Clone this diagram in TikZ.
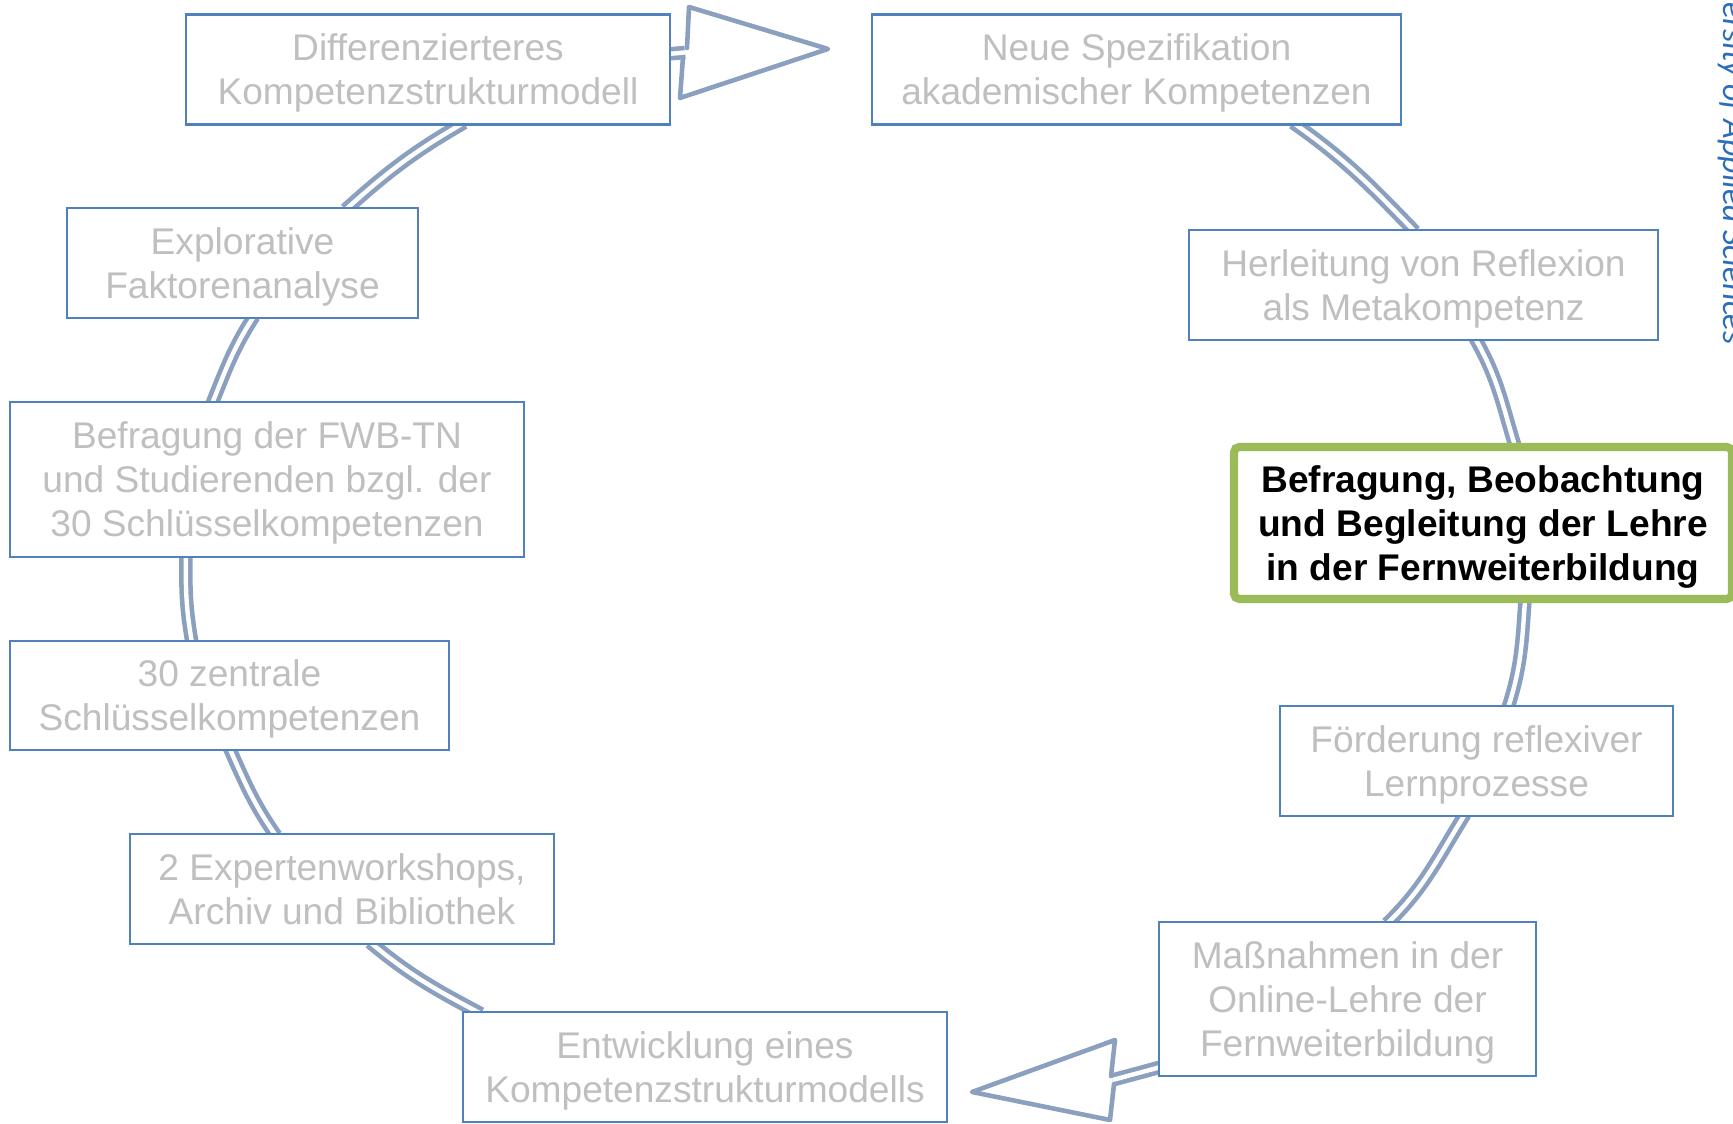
\documentclass[tikz,border=0pt]{standalone}
\usepackage{fontspec}
\setmainfont{Liberation Sans}
\newfontfamily\hsfont{Carlito}
\usetikzlibrary{backgrounds}
\definecolor{ringblue}{HTML}{8AA0BE}
\definecolor{boxblue}{HTML}{4F81BD}
\definecolor{textgray}{HTML}{BFBFBF}
\definecolor{markgreen}{HTML}{9BBB59}
\definecolor{hsblue}{HTML}{2A6EBB}

\begin{document}
\begin{tikzpicture}[
        box/.style={draw=boxblue, line width=0.7pt, fill=white, text=textgray, align=center,
            inner sep=0pt, minimum height=1.1cm, text depth=-0.3pt,
            font=\fontsize{10.56}{12.5}\selectfont},
        ring/.style={draw=ringblue, line width=1.3pt, double=white, double distance=1.25pt},
        bighead/.style={draw=ringblue, line width=1.3pt, line join=round, line cap=round}
    ]
        \useasboundingbox (0,0) rectangle (17.33,11.24);
        \clip (0,0) rectangle (17.33,11.24);

        \node[box, minimum width=4.84cm] (diff) at (4.28,10.545) {Differenzierteres\\Kompetenzstrukturmodell};
        \node[box, minimum width=5.29cm] (neue) at (11.365,10.545) {Neue Spezifikation\\akademischer Kompetenzen};
        \node[box, minimum width=3.51cm] (expl) at (2.425,8.61) {Explorative\\Faktorenanalyse};
        \node[box, minimum width=4.69cm] (herl) at (14.235,8.39) {Herleitung von Reflexion\\als Metakompetenz};
        \node[box, minimum width=5.14cm, minimum height=1.55cm] (befr) at (2.67,6.445) {Befragung der FWB-TN\\und Studierenden bzgl. der\\30 Schlüsselkompetenzen};
        \node[box, draw=markgreen, line width=2.3pt, rounded corners=1.5pt, text=black,
            font=\fontsize{10.56}{12.5}\selectfont\bfseries, minimum width=4.98cm, minimum height=1.52cm]
            (high) at (14.83,6.01) {Befragung, Beobachtung\\und Begleitung der Lehre\\in der Fernweiterbildung};
        \node[box, minimum width=4.39cm, minimum height=1.09cm] (zent) at (2.295,4.285) {30 zentrale\\Schlüsselkompetenzen};
        \node[box, minimum width=3.93cm] (foer) at (14.765,3.63) {Förderung reflexiver\\Lernprozesse};
        \node[box, minimum width=4.24cm] (expe) at (3.42,2.35) {2 Expertenworkshops,\\Archiv und Bibliothek};
        \node[box, minimum width=3.77cm, minimum height=1.54cm] (mass) at (13.475,1.25) {Maßnahmen in der\\Online-Lehre der\\Fernweiterbildung};
        \node[box, minimum width=4.84cm] (entw) at (7.05,0.57) {Entwicklung eines\\Kompetenzstrukturmodells};

        \coordinate (topbase) at (6.85,10.715);
        \coordinate (toptip) at (8.28,10.75);
        \coordinate (botbase) at (11.125,0.44);
        \coordinate (bottip) at (9.72,0.32);

        \begin{scope}[on background layer]
            \draw[ring] ([xshift=-2.24cm,yshift=-0.03cm]entw.north) to[out=152,in=320] ([xshift=0.28cm,yshift=0.03cm]expe.south);
            \draw[ring] ([xshift=-0.66cm,yshift=-0.03cm]expe.north) to[out=125,in=294] ([yshift=0.03cm]zent.south);
            \draw[ring] ([xshift=-0.375cm,yshift=-0.03cm]zent.north) to[out=100,in=269] ([xshift=-0.81cm,yshift=0.03cm]befr.south);
            \draw[ring] ([xshift=-0.55cm,yshift=-0.03cm]befr.north) to[out=68,in=237] ([xshift=0.115cm,yshift=0.03cm]expl.south);
            \draw[ring] ([xshift=1.03cm,yshift=-0.03cm]expl.north) to[out=42,in=210] ([xshift=0.36cm,yshift=0.03cm]diff.south);
            \draw[ring] ([xshift=-0.03cm,yshift=0.155cm]diff.east) -- (topbase);

            \draw[ring] ([xshift=1.565cm,yshift=0.03cm]neue.south) to[out=-35,in=134] ([xshift=-0.085cm,yshift=-0.03cm]herl.north);
            \draw[ring] ([xshift=0.515cm,yshift=0.03cm]herl.south) to[out=-60,in=107] ([xshift=0.32cm,yshift=-0.03cm]high.north);
            \draw[ring] ([xshift=0.42cm,yshift=0.03cm]high.south) to[out=-94,in=72] ([xshift=0.315cm,yshift=-0.03cm]foer.north);
            \draw[ring] ([xshift=-0.115cm,yshift=0.03cm]foer.south) to[out=238,in=44] ([xshift=0.395cm,yshift=-0.03cm]mass.north);
            \draw[ring] ([xshift=0.03cm,yshift=-0.68cm]mass.west) -- (botbase);
        \end{scope}

        \draw[bighead] (6.87,10.76) -- (6.89,11.17) -- (toptip) -- (6.80,10.26) -- (6.83,10.67);
        \draw[bighead] (11.11,0.48) -- (11.15,0.84) -- (bottip) -- (11.10,0.04) -- (11.14,0.40);

        \node[rotate=-90, anchor=base east, inner sep=0pt, text=hsblue,
            font=\hsfont\itshape\fontsize{9.6}{11}\selectfont] (hs) at (17.235,7.79) {University of Applied Sciences};
    \end{tikzpicture}
\end{document}
